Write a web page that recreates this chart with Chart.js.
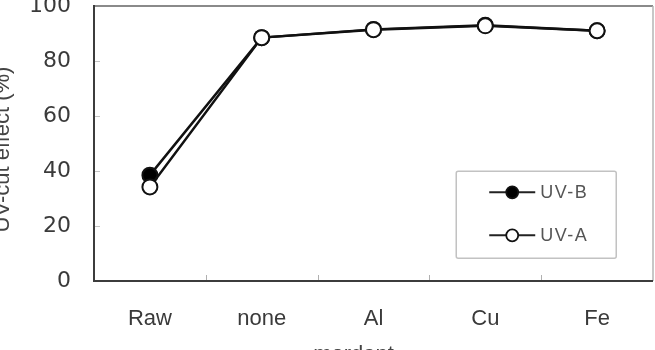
<!DOCTYPE html>
<html>
<head>
<meta charset="utf-8">
<script src="https://cdn.jsdelivr.net/npm/chart.js@4.4.1/dist/chart.umd.min.js"></script>
<style>
  html, body { margin: 0; padding: 0; background: #fff; }
  #wrap { width: 655px; height: 350px; position: relative; }
</style>
</head>
<body>
<div id="wrap"><canvas id="c" width="655" height="350"></canvas></div>
<script>
const categories = ['Raw', 'none', 'Al', 'Cu', 'Fe'];
const uvB = [38.5, 88.5, 91.5, 93.0, 91.0];
const uvA = [34.2, 88.5, 91.4, 92.8, 91.0];
const yTicks = [0, 20, 40, 60, 80, 100];
const yTitle = 'UV-cut effect (%)';
const xTitle = 'mordant';
const seriesNames = ['UV-B', 'UV-A'];

const framePlugin = {
  id: 'frame',
  beforeDatasetsDraw(chart) {
    const { ctx, chartArea: a, scales } = chart;
    ctx.save();
    ctx.strokeStyle = '#c4c4c4';
    ctx.lineWidth = 1;
    yTicks.forEach(v => {
      if (v === 0 || v === 100) return;
      const y = Math.round(scales.y.getPixelForValue(v)) + 0.5;
      ctx.beginPath(); ctx.moveTo(a.left, y); ctx.lineTo(a.left + 6, y); ctx.stroke();
    });
    ctx.strokeStyle = '#b0b0b0';
    for (let i = 0; i < categories.length - 1; i++) {
      const x = Math.round((scales.x.getPixelForValue(i) + scales.x.getPixelForValue(i + 1)) / 2) + 0.5;
      ctx.beginPath(); ctx.moveTo(x, a.bottom); ctx.lineTo(x, a.bottom - 6); ctx.stroke();
    }
    ctx.lineWidth = 2;
    ctx.strokeStyle = '#8a8a8a';
    ctx.beginPath(); ctx.moveTo(a.left, a.top); ctx.lineTo(a.right, a.top); ctx.stroke();
    ctx.strokeStyle = '#b5b5b5';
    ctx.lineWidth = 1.5;
    ctx.beginPath(); ctx.moveTo(a.right, a.top); ctx.lineTo(a.right, a.bottom); ctx.stroke();
    ctx.strokeStyle = '#3c3c3c';
    ctx.lineWidth = 2;
    ctx.beginPath(); ctx.moveTo(a.left, a.top - 1); ctx.lineTo(a.left, a.bottom); ctx.lineTo(a.right, a.bottom); ctx.stroke();
    ctx.fillStyle = '#444';
    ctx.font = '22px "Liberation Sans", Arial, sans-serif';
    ctx.textAlign = 'center';
    ctx.textBaseline = 'middle';
    ctx.save();
    ctx.translate(3, (a.top + a.bottom) / 2 + 6);
    ctx.rotate(-Math.PI / 2);
    ctx.fillText(yTitle, 0, 0);
    ctx.restore();
    ctx.textBaseline = 'alphabetic';
    ctx.fillText(xTitle, (a.left + a.right) / 2 - 20, 361);
    ctx.restore();
  },
  afterDatasetsDraw(chart) {
    const { ctx, chartArea: a } = chart;
    const bx = a.left + (a.right - a.left) * 0.648;
    const by = a.top + (a.bottom - a.top) * 0.601;
    const bw = 160, bh = 87;
    ctx.save();
    ctx.strokeStyle = '#c2c2c2';
    ctx.lineWidth = 1.5;
    ctx.beginPath();
    if (ctx.roundRect) ctx.roundRect(bx, by, bw, bh, 2); else ctx.rect(bx, by, bw, bh);
    ctx.fillStyle = '#fff';
    ctx.fill();
    ctx.stroke();
    const ds = chart.data.datasets;
    const rows = [by + 21, by + 64];
    ds.forEach((d, i) => {
      const y = rows[i];
      ctx.strokeStyle = '#222';
      ctx.lineWidth = 2;
      ctx.beginPath(); ctx.moveTo(bx + 33, y); ctx.lineTo(bx + 79, y); ctx.stroke();
      ctx.beginPath(); ctx.arc(bx + 56, y, 6, 0, Math.PI * 2);
      ctx.fillStyle = d.pointBackgroundColor; ctx.fill();
      ctx.lineWidth = 1.8; ctx.strokeStyle = '#111'; ctx.stroke();
      ctx.fillStyle = '#555';
      ctx.font = '18px "Liberation Sans", Arial, sans-serif';
      ctx.textAlign = 'left';
      ctx.textBaseline = 'middle';
      try { ctx.letterSpacing = '1.5px'; } catch (e) {}
      ctx.fillText(d.label, bx + 84, y + 1);
    });
    ctx.restore();
  }
};

new Chart(document.getElementById('c'), {
  type: 'line',
  data: {
    labels: categories,
    datasets: [
      {
        label: seriesNames[0], data: uvB,
        borderColor: '#111', borderWidth: 2.5,
        pointBackgroundColor: '#000', pointBorderColor: '#111',
        pointRadius: 7.5, pointBorderWidth: 2, tension: 0, order: 2
      },
      {
        label: seriesNames[1], data: uvA,
        borderColor: '#111', borderWidth: 2.5,
        pointBackgroundColor: '#fff', pointBorderColor: '#111',
        pointRadius: 7.5, pointBorderWidth: 2, tension: 0, order: 1
      }
    ]
  },
  options: {
    responsive: false,
    animation: false,
    layout: { autoPadding: false, padding: { top: 6, right: 2, left: 0, bottom: 0 } },
    plugins: { legend: { display: false }, tooltip: { enabled: false } },
    scales: {
      x: {
        type: 'category',
        offset: true,
        grid: { display: false, drawTicks: false },
        border: { display: false },
        ticks: {
          color: '#3a3a3a', padding: 25,
          font: { family: '"Liberation Sans", Arial, sans-serif', size: 22 }
        },
        afterFit(s) { s.height = 69; s.paddingLeft = 0; s.paddingRight = 0; }
      },
      y: {
        min: 0, max: 100,
        afterBuildTicks(s) { s.ticks = yTicks.map(v => ({ value: v })); },
        grid: { display: false, drawTicks: false },
        border: { display: false },
        ticks: {
          color: '#3a3a3a', padding: 23,
          font: { family: '"DejaVu Sans", sans-serif', size: 22 }
        },
        afterFit(s) { s.width = 94; s.paddingTop = 0; s.paddingBottom = 0; }
      }
    }
  },
  plugins: [framePlugin]
});
</script>
</body>
</html>
